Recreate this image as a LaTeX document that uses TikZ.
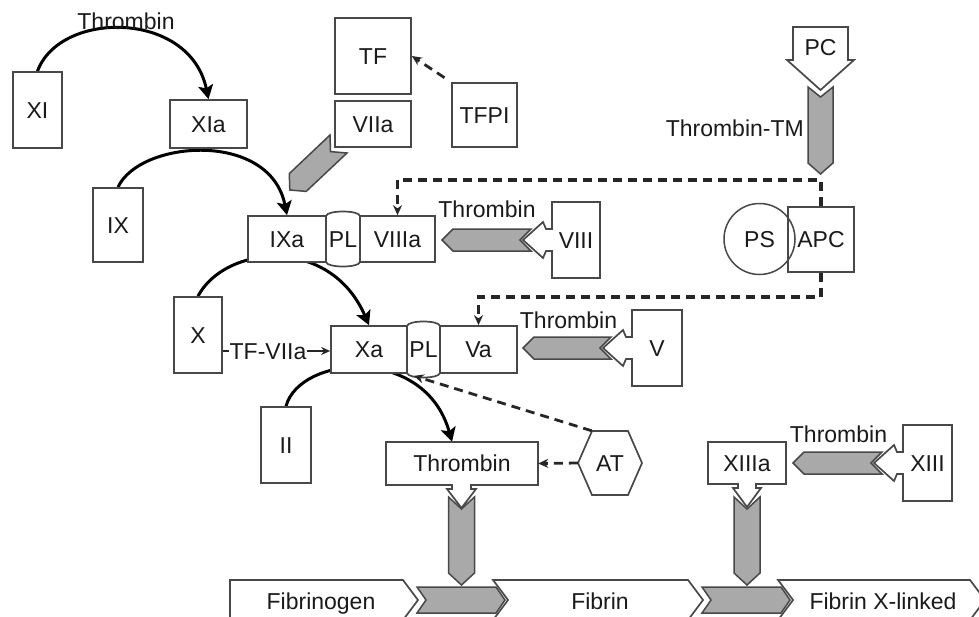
\documentclass[tikz,border=0pt]{standalone}
\usepackage{fontspec}
\setmainfont{Liberation Sans}
\usetikzlibrary{arrows.meta,calc}
\definecolor{boxline}{HTML}{484848}
\definecolor{grayfill}{HTML}{A9A9A9}
\definecolor{txt}{HTML}{1A1A1A}
\pgfdeclarelayer{back}
\pgfdeclarelayer{bg}
\pgfsetlayers{back,bg,main}
\begin{document}
\begin{tikzpicture}[x=1pt,y=-1pt, font=\fontsize{23}{27}\selectfont,
 bx/.style={draw=boxline, fill=white, line width=1.7pt, inner sep=0pt, text=txt, text height=16.5pt, text depth=0pt},
 tb/.style={inner sep=0pt, text=txt, text height=16.5pt, text depth=0pt},
 shp/.style={draw=boxline, fill=white, line width=1.7pt, line join=miter},
 gry/.style={draw=boxline, fill=grayfill, line width=1.5pt, line join=miter},
 cv/.style={line width=3pt, draw=black, -{Stealth[length=14pt,width=15pt,inset=3pt]}},
 da/.style={line width=3.2pt, draw=black!85, dash pattern=on 9pt off 6pt, -{Stealth[length=10pt,width=9pt]}},
 sa/.style={line width=2pt, draw=black!85, -{Stealth[length=9pt,width=8pt]}}]
\useasboundingbox (0,0) rectangle (979,616);
\begin{pgfonlayer}{back}
\fill[white] (0,0) rectangle (979,616);
\end{pgfonlayer}
\clip (0,0) rectangle (979,616);

% simple boxes
\node[bx, minimum width=49pt, minimum height=76pt] (XI) at (37.5,110) {XI};
\node[bx, minimum width=77pt, minimum height=48pt] (XIa) at (208.5,124) {XIa};
\node[bx, minimum width=50pt, minimum height=74pt] (IX) at (118,225) {IX};
\node[bx, minimum width=76pt, minimum height=76pt] (TF) at (373,56) {TF};
\node[bx, minimum width=76pt, minimum height=46pt] (VIIa) at (373,124) {VIIa};
\node[bx, minimum width=65pt, minimum height=64pt] (TFPI) at (484.5,115) {TFPI};

% VIIa gray arrow
\draw[gry] (330,135) -- (289.3,173.6) -- (289.8,190) -- (306.2,191.4) -- (347,153) -- (330.5,151.6) -- cycle;

% IXa - PL - VIIIa
\node[bx, minimum width=78pt, minimum height=46pt] (IXa) at (287,239) {IXa};
\node[bx, minimum width=75pt, minimum height=46pt] (VIIIa) at (397.5,239) {VIIIa};
\draw[shp] (326,262) -- (326,216) .. controls (327,210) and (359,210) .. (360,216) -- (360,262) .. controls (359,268) and (327,268) .. (326,262) -- cycle;
\node[tb] (plA) at (343,239) {PL};

% Xa - PL - Va
\node[bx, minimum width=48pt, minimum height=76pt] (X) at (198,335) {X};
\node[bx, minimum width=76pt, minimum height=47pt] (Xa) at (369,349.5) {Xa};
\node[bx, minimum width=77pt, minimum height=47pt] (Va) at (478.5,349.5) {Va};
\draw[shp] (407,373) -- (407,326) .. controls (408,320) and (439,320) .. (440,326) -- (440,373) .. controls (439,379) and (408,379) .. (407,373) -- cycle;
\node[tb] (plB) at (423.5,349.5) {PL};

\node[bx, minimum width=50pt, minimum height=76pt] (II) at (286,445) {II};

% TF-VIIa
\node[tb] (tfv) at (268,351) {TF-VIIa};
\draw[line width=2pt, draw=black!85] (X.east |- tfv.west) -- (tfv.west);
\draw[sa] (tfv.east) -- (tfv.east -| Xa.west);

% PC block arrow and Thrombin-TM
\draw[shp] (793,60) -- (793,27) -- (848,27) -- (848,60) -- (854,60) -- (820.5,90) -- (787,60) -- cycle;
\node[tb] (PC) at (820.5,47) {PC};
\draw[gry] (808,87) -- (820.5,97) -- (833,87) -- (833,163) -- (820.5,174) -- (808,163) -- cycle;
\node[tb, anchor=east] (thTM) at (804,128.5) {Thrombin-TM};

% APC and PS
\node[bx, minimum width=66pt, minimum height=65pt] (APC) at (821,239.5) {APC};
\node[circle, draw=boxline, line width=1.5pt, minimum size=71pt, inner sep=0pt, text=txt, text height=16.5pt, text depth=0pt] (PS) at (759.5,239) {PS};

% VIII with thrombin arrow
\draw[shp] (552,229) -- (552,202) -- (600,202) -- (600,278) -- (552,278) -- (552,251) -- (546,251) -- (543,258) -- (523,240) -- (543,222) -- (546,229) -- cycle;
\node[tb, minimum width=48pt, minimum height=76pt] (VIII) at (576,240) {VIII};
\draw[gry] (531,229) -- (453,229) -- (442,240) -- (453,251) -- (531,251) -- (520,240) -- cycle;
\node[tb] (thB) at (487,209.5) {Thrombin};

% V with thrombin arrow
\draw[shp] (632,337) -- (632,310) -- (682,310) -- (682,386) -- (632,386) -- (632,359) -- (626,359) -- (623,366) -- (603,348) -- (623,330) -- (626,337) -- cycle;
\node[tb, minimum width=50pt, minimum height=76pt] (V) at (657,348) {V};
\draw[gry] (611,337) -- (534,337) -- (523,348) -- (534,359) -- (611,359) -- (600,348) -- cycle;
\node[tb] (thC) at (568.5,320.5) {Thrombin};

% XIII with thrombin arrow
\draw[shp] (903,452) -- (903,425) -- (952,425) -- (952,501) -- (903,501) -- (903,474) -- (897,474) -- (894,481) -- (874,463) -- (894,445) -- (897,452) -- cycle;
\node[tb, minimum width=49pt, minimum height=76pt] (XIII) at (927.5,463) {XIII};
\draw[gry] (882,452) -- (804,452) -- (793,463) -- (804,474) -- (882,474) -- (871,463) -- cycle;
\node[tb] (thD) at (838.5,434.5) {Thrombin};

% Thrombin box
\draw[shp] (452,485) -- (386,485) -- (386,442) -- (538,442) -- (538,485) -- (471,485) -- (471,489) -- (476,489) -- (461.5,508) -- (447,489) -- (452,489) -- cycle;
\node[tb, minimum width=152pt, minimum height=43pt] (Thr) at (462,463.5) {Thrombin};
\draw[gry] (448.5,497) -- (461.5,509) -- (474.5,497) -- (474.5,573) -- (461.5,585) -- (448.5,573) -- cycle;

% XIIIa box
\draw[shp] (738,484) -- (708,484) -- (708,442) -- (786,442) -- (786,484) -- (756,484) -- (756,488) -- (761,488) -- (747,507) -- (733,488) -- (738,488) -- cycle;
\node[tb, minimum width=78pt, minimum height=42pt] (XIIIa) at (747,463) {XIIIa};
\draw[gry] (734,497) -- (747,509) -- (760,497) -- (760,573) -- (747,585) -- (734,573) -- cycle;

% AT hexagon
\draw[shp] (592,431) -- (628,431) -- (642,463) -- (628,495) -- (592,495) -- (578,463) -- cycle;
\node[tb, minimum width=64pt, minimum height=64pt] (AT) at (610,463) {AT};

% bottom bars
\draw[shp] (230,580) -- (403,580) -- (418,600) -- (403,620) -- (230,620) -- cycle;
\draw[shp] (493,580) -- (688,580) -- (703,600) -- (688,620) -- (493,620) -- (508,600) -- cycle;
\draw[shp] (778,580) -- (970,580) -- (985,600) -- (970,620) -- (778,620) -- (793,600) -- cycle;
\draw[gry] (417,587) -- (496,587) -- (505,600) -- (496,613) -- (417,613) -- (426,600) -- cycle;
\draw[gry] (702,587) -- (781,587) -- (790,600) -- (781,613) -- (702,613) -- (711,600) -- cycle;
\node[tb] (fbg) at (321,601) {Fibrinogen};
\node[tb] (fb) at (600,601) {Fibrin};
\node[tb] (fbx) at (883,601) {Fibrin X-linked};

% top thrombin label
\node[tb] (thA) at (126,21) {Thrombin};

% curved activation arrows (behind boxes)
\begin{pgfonlayer}{bg}
\draw[cv] (XI.north) .. controls (60,10) and (190,10) .. (XIa.north);
\draw[cv] (IX.north) .. controls (140,140) and (270,130) .. (IXa.north);
\draw[cv] (X.north) .. controls (225,245) and (330,235) .. (Xa.north);
\draw[cv] (II.north) .. controls (300,355) and (425,345) .. ($(Thr.north)+(-10,0)$);
\end{pgfonlayer}

% dashed inhibition arrows
\coordinate (d1) at (821,180);
\coordinate (d2) at (397.5,180);
\draw[da] (APC.north) -- (d1) -- (d2) -- (VIIIa.north);
\coordinate (d3) at (821,297);
\coordinate (d4) at (478.5,297);
\draw[da] (APC.south) -- (d3) -- (d4) -- (Va.north);
\draw[da, line width=2.8pt, shorten <=8pt] (TFPI.north west) -- (TF.east);
\draw[da, line width=2.8pt] ($(AT.north west)+(14,0)$) -- ($(Xa.south east)+(6,2)$);
\draw[da, line width=2.8pt] (AT.west) -- (Thr.east);
\end{tikzpicture}
\end{document}
